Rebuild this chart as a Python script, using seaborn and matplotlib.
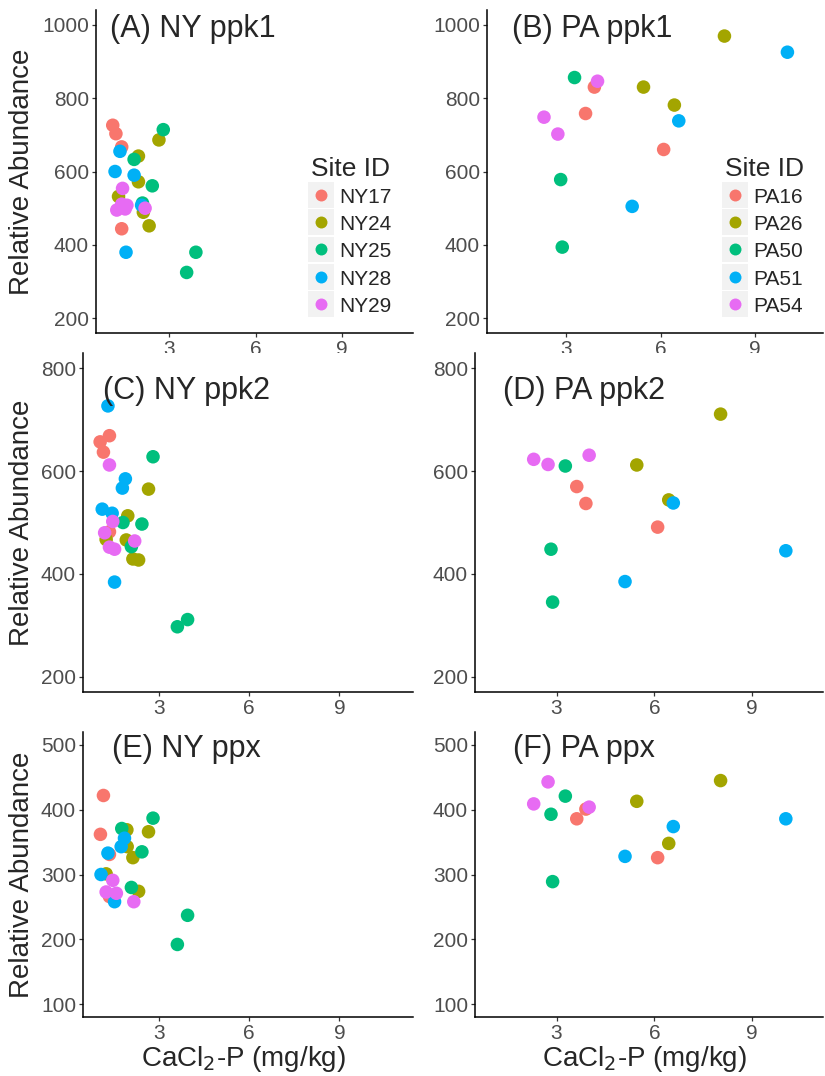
import matplotlib
matplotlib.use("Agg")
import matplotlib.pyplot as plt
import seaborn as sns
import pandas as pd
from matplotlib.patches import Rectangle
from matplotlib.lines import Line2D

sns.set_theme(style="white")
plt.rcParams["font.family"] = ["Liberation Sans", "DejaVu Sans"]

ny_sites = ["NY17", "NY24", "NY25", "NY28", "NY29"]
pa_sites = ["PA16", "PA26", "PA50", "PA51", "PA54"]
site_colors = ["#F8766D", "#A3A500", "#00BF7D", "#00B0F6", "#E76BF3"]

# ---- New York samples -------------------------------------------------
ny_ppk1_site = ["NY17"] * 4 + ["NY24"] * 6 + ["NY25"] * 6 + ["NY28"] * 5 + ["NY29"] * 6
ny_ppk1_p = [1.05, 1.16, 1.36, 1.36,
             2.65, 1.94, 1.94, 1.25, 2.11, 2.31,
             2.80, 1.79, 2.42, 2.08, 3.93, 3.61,
             1.30, 1.13, 1.79, 1.51, 2.05,
             1.39, 1.36, 1.19, 1.48, 1.54, 2.17]
ny_ppk1_abund = [726, 703, 667, 444,
                 686, 642, 572, 532, 489, 452,
                 714, 633, 561, 514, 380, 325,
                 655, 600, 590, 380, 508,
                 554, 511, 495, 498, 508, 500]

ny_ppk2_site = ["NY17"] * 4 + ["NY24"] * 6 + ["NY25"] * 6 + ["NY28"] * 6 + ["NY29"] * 6
ny_ppk2_p = [1.35, 1.04, 1.15, 1.35,
             2.65, 1.96, 1.24, 1.91, 2.13, 2.32,
             2.80, 1.80, 2.43, 2.08, 3.95, 3.61,
             1.30, 1.88, 1.78, 1.11, 1.44, 1.52,
             1.35, 1.46, 1.19, 2.19, 1.35, 1.52]
ny_ppk2_abund = [669, 657, 637, 482,
                 565, 513, 467, 466, 429, 427,
                 628, 500, 497, 453, 311, 297,
                 727, 585, 567, 526, 518, 384,
                 612, 502, 480, 464, 452, 448]

ny_ppx_site = ["NY17"] * 4 + ["NY24"] * 6 + ["NY25"] * 6 + ["NY28"] * 5 + ["NY29"] * 4
ny_ppx_p = [1.15, 1.05, 1.35, 1.35,
            1.93, 2.65, 1.94, 2.13, 1.24, 2.32,
            2.80, 1.76, 2.43, 2.08, 3.95, 3.61,
            1.85, 1.74, 1.30, 1.07, 1.52,
            1.46, 1.24, 1.58, 2.16]
ny_ppx_abund = [422, 362, 331, 266,
                369, 366, 343, 326, 301, 274,
                387, 371, 335, 280, 237, 192,
                356, 343, 333, 300, 258,
                291, 273, 271, 258]

# ---- Pennsylvania samples ---------------------------------------------
pa_site = ["PA16"] * 3 + ["PA26"] * 3 + ["PA50"] * 3 + ["PA51"] * 3 + ["PA54"] * 3
pa_p = [3.62, 3.90, 6.10,
        5.46, 6.44, 8.03,
        2.83, 2.88, 3.27,
        5.10, 6.58, 10.03,
        2.30, 2.74, 4.00]
pa_ppk1 = [758, 830, 660,
           830, 781, 969,
           578, 394, 856,
           505, 738, 925,
           748, 702, 846]
pa_ppk2 = [570, 537, 491,
           612, 544, 711,
           448, 345, 610,
           385, 538, 445,
           623, 613, 631]
pa_ppx = [386, 401, 326,
          413, 348, 445,
          393, 289, 421,
          328, 374, 386,
          409, 443, 404]

y_ticks_rows = [[200, 400, 600, 800, 1000], [200, 400, 600, 800], [100, 200, 300, 400, 500]]
x_ticks = [3, 6, 9]

W, H = 825, 1076
fig = plt.figure(figsize=(W / 100, H / 100), dpi=100)


def box(l, t, r, b):
    return [l / W, 1 - b / H, (r - l) / W, (b - t) / H]


def fx(px):
    return px / W


def fy(py):
    return 1 - py / H


def site_key(x_key, x_title, sites):
    fig.text(fx(x_title), fy(176.5), "Site ID", fontsize=19, va="baseline", ha="left")
    for k, (name, col) in enumerate(zip(sites, site_colors)):
        top = 181.7 + k * 27.4
        mid = top + 12.9
        fig.add_artist(Rectangle((fx(x_key), fy(top + 25.8)), 26 / W, 25.8 / H,
                                 transform=fig.transFigure, facecolor="#F2F2F2",
                                 edgecolor="none"))
        fig.add_artist(Line2D([fx(x_key + 13)], [fy(mid)], transform=fig.transFigure,
                              linestyle="none", marker="o", markersize=8.6,
                              markerfacecolor=col, markeredgewidth=0))
        fig.text(fx(x_key + 31), fy(mid + 8), name, fontsize=15, va="baseline", ha="left")


panels = [
    # (data, sites, axes box, ylim, xlim, title, title pos, row)
    (pd.DataFrame({"p": ny_ppk1_p, "abund": ny_ppk1_abund, "site": ny_ppk1_site}), ny_sites,
     box(96, 10, 413, 333), (160, 1040), (0.47, 11.45), "(A) NY ppk1", (110, 37), 0),
    (pd.DataFrame({"p": pa_p, "abund": pa_ppk1, "site": pa_site}), pa_sites,
     box(487, 10, 823, 333), (160, 1040), (0.49, 11.16), "(B) PA ppk1", (512, 37), 0),
    (pd.DataFrame({"p": ny_ppk2_p, "abund": ny_ppk2_abund, "site": ny_ppk2_site}), ny_sites,
     box(83, 353, 413, 692), (170, 830), (0.47, 11.45), "(C) NY ppk2", (103, 399), 1),
    (pd.DataFrame({"p": pa_p, "abund": pa_ppk2, "site": pa_site}), pa_sites,
     box(475, 353, 823, 692), (170, 830), (0.5, 11.17), "(D) PA ppk2", (503, 399), 1),
    (pd.DataFrame({"p": ny_ppx_p, "abund": ny_ppx_abund, "site": ny_ppx_site}), ny_sites,
     box(83, 732, 413, 1017), (80, 520), (0.47, 11.45), "(E) NY ppx", (112, 757), 2),
    (pd.DataFrame({"p": pa_p, "abund": pa_ppx, "site": pa_site}), pa_sites,
     box(475, 732, 823, 1017), (80, 520), (0.5, 11.17), "(F) PA ppx", (513, 757), 2),
]

for i, (df, sites, rect, ylim, xlim, title, tpos, row) in enumerate(panels):
    ax = fig.add_axes(rect)
    pal = dict(zip(sites, site_colors))
    sns.scatterplot(data=df, x="p", y="abund", hue="site", hue_order=sites,
                    palette=pal, s=95, linewidth=0, ax=ax, legend=False)
    ax.set_xlim(*xlim)
    ax.set_ylim(*ylim)
    ax.set_xticks(x_ticks)
    ax.set_yticks(y_ticks_rows[row])
    ax.set_xlabel("")
    ax.set_ylabel("")
    for side in ("top", "right"):
        ax.spines[side].set_visible(False)
    for side in ("left", "bottom"):
        ax.spines[side].set_color("black")
        ax.spines[side].set_linewidth(1.1)
    ax.tick_params(axis="both", which="major", length=3, width=0.9, color="#333333",
                   labelcolor="#4D4D4D", labelsize=15, pad=2, bottom=True, left=True)
    ax.grid(False)
    fig.text(fx(tpos[0]), fy(tpos[1]), title, fontsize=22, ha="left", va="baseline")

    l, b, w, h = rect
    if i % 2 == 0:
        fig.text(fx(22), b + h / 2, "Relative Abundance", fontsize=20, rotation=90,
                 ha="center", va="center")
    if row == 2:
        fig.text(l + w / 2 - 4 / W, fy(1066), r"CaCl$_2$-P (mg/kg)", fontsize=20,
                 ha="center", va="baseline")

site_key(308, 311, ny_sites)
site_key(722, 725, pa_sites)

fig.savefig("out.png", dpi=100)
